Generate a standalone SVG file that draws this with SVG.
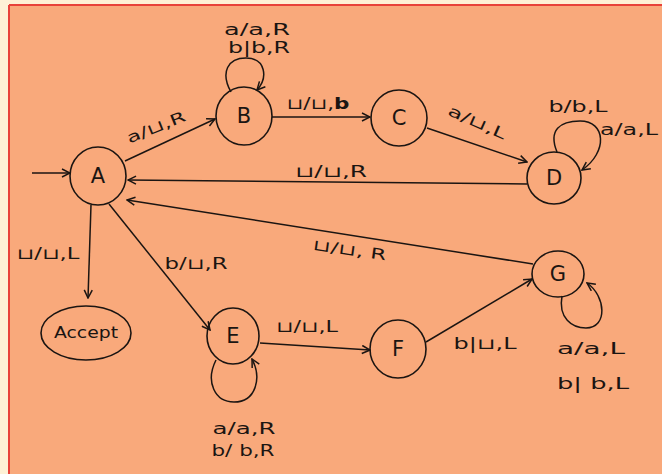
<svg xmlns="http://www.w3.org/2000/svg" width="662" height="474" viewBox="0 0 662 474">
  <style>
    .node ellipse { fill: none; stroke: #1b1512; stroke-width: 1.6; }
    .node text { font-family: "DejaVu Sans", "Liberation Sans", sans-serif; font-size: 21px; fill: #1b1512; text-anchor: middle; dominant-baseline: central; }
    .edge { fill: none; stroke: #1b1512; stroke-width: 1.5; marker-end: url(#arrow); }
    .loop { fill: none; stroke: #1b1512; stroke-width: 1.5; marker-end: url(#arrow); }
    .lbl { font-family: "DejaVu Sans", "Liberation Sans", sans-serif; font-size: 15px; fill: #1b1512; text-anchor: middle; }
  </style>
  <defs>
    <marker id="arrow" viewBox="0 0 10 10" refX="9" refY="5" markerWidth="10" markerHeight="10" markerUnits="userSpaceOnUse" orient="auto">
      <path d="M1,1 L9,5 L1,9" fill="none" stroke="#1b1512" stroke-width="1.5"/>
    </marker>
  </defs>

  <!-- paper, margin and frame line -->
  <rect x="0" y="0" width="662" height="474" fill="#fef1d6"/>
  <rect x="9" y="5" width="653" height="469" fill="#f9a97b"/>
  <line x1="9" y1="5" x2="662" y2="5" stroke="#e8423a" stroke-width="2"/>
  <line x1="9" y1="5" x2="9" y2="474" stroke="#e8423a" stroke-width="2"/>

  <!-- transitions -->
  <g id="connectors">
    <line class="edge" x1="32" y1="173" x2="70" y2="173"/>
    <line class="edge" x1="125" y1="161" x2="215" y2="119"/>
    <line class="edge" x1="272" y1="117" x2="370" y2="117"/>
    <line class="edge" x1="427" y1="128" x2="527" y2="162"/>
    <line class="edge" x1="527" y1="184" x2="128" y2="180"/>
    <line class="edge" x1="533" y1="264" x2="127" y2="200"/>
    <line class="edge" x1="91" y1="205" x2="88" y2="298"/>
    <line class="edge" x1="109" y1="204" x2="210" y2="330"/>
    <line class="edge" x1="260" y1="343" x2="370" y2="350"/>
    <line class="edge" x1="426" y1="342" x2="532" y2="279"/>

    <path class="loop" d="M231,92 C220,72 228,58 246,58 C266,58 268,78 257,90"/>
    <path class="loop" d="M557,152 C548,130 560,121 580,121 C606,121 608,152 582,170"/>
    <path class="loop" d="M216,360 C205,382 215,402 234,402 C256,402 262,378 252,359"/>
    <path class="loop" d="M562,296 C558,318 572,328 586,328 C608,328 606,296 587,283"/>

    <!-- transition labels -->
    <text class="lbl" x="257" y="35" textLength="66" lengthAdjust="spacingAndGlyphs">a/a,R</text>
    <text class="lbl" x="259" y="53" textLength="62" lengthAdjust="spacingAndGlyphs">b|b,R</text>
    <text class="lbl" transform="translate(158,132) rotate(-22)" textLength="62" lengthAdjust="spacingAndGlyphs">a/⊔,R</text>
    <text class="lbl" x="318" y="109" textLength="63" lengthAdjust="spacingAndGlyphs">⊔/⊔,<tspan font-weight="bold">b</tspan></text>
    <text class="lbl" transform="translate(475,127) rotate(24)" textLength="62" lengthAdjust="spacingAndGlyphs">a/⊔,L</text>
    <text class="lbl" x="578" y="112" textLength="59" lengthAdjust="spacingAndGlyphs">b/b,L</text>
    <text class="lbl" x="629" y="135" textLength="58" lengthAdjust="spacingAndGlyphs">a/a,L</text>
    <text class="lbl" x="331" y="177" textLength="72" lengthAdjust="spacingAndGlyphs">⊔/⊔,R</text>
    <text class="lbl" transform="translate(349,255) rotate(8)" textLength="74" lengthAdjust="spacingAndGlyphs">⊔/⊔, R</text>
    <text class="lbl" x="48" y="259" textLength="63" lengthAdjust="spacingAndGlyphs">⊔/⊔,L</text>
    <text class="lbl" x="196" y="269" textLength="63" lengthAdjust="spacingAndGlyphs">b/⊔,R</text>
    <text class="lbl" x="307" y="332" textLength="62" lengthAdjust="spacingAndGlyphs">⊔/⊔,L</text>
    <text class="lbl" x="485" y="349" textLength="63" lengthAdjust="spacingAndGlyphs">b|⊔,L</text>
    <text class="lbl" x="244" y="434" textLength="63" lengthAdjust="spacingAndGlyphs">a/a,R</text>
    <text class="lbl" x="243" y="456" textLength="63" lengthAdjust="spacingAndGlyphs">b/ b,R</text>
    <text class="lbl" x="591" y="354" textLength="68" lengthAdjust="spacingAndGlyphs">a/a,L</text>
    <text class="lbl" x="593" y="389" textLength="72" lengthAdjust="spacingAndGlyphs">b| b,L</text>
  </g>

  <!-- states -->
  <g id="node-A" class="node"><ellipse cx="98" cy="176" rx="28" ry="29"/><text x="98" y="176">A</text></g>
  <g id="node-B" class="node"><ellipse cx="244" cy="116" rx="28" ry="29"/><text x="244" y="116">B</text></g>
  <g id="node-C" class="node"><ellipse cx="399" cy="118" rx="28" ry="28"/><text x="399" y="118">C</text></g>
  <g id="node-D" class="node"><ellipse cx="554" cy="178" rx="27" ry="26"/><text x="554" y="178">D</text></g>
  <g id="node-E" class="node"><ellipse cx="233" cy="336" rx="26" ry="28"/><text x="233" y="336">E</text></g>
  <g id="node-F" class="node"><ellipse cx="398" cy="349" rx="28" ry="29"/><text x="398" y="349">F</text></g>
  <g id="node-G" class="node"><ellipse cx="558" cy="274" rx="26" ry="23"/><text x="558" y="274">G</text></g>
  <g id="node-Accept" class="node"><ellipse cx="86" cy="333" rx="45" ry="27"/><text x="86" y="333" style="font-size:15px" textLength="64" lengthAdjust="spacingAndGlyphs">Accept</text></g>
</svg>
